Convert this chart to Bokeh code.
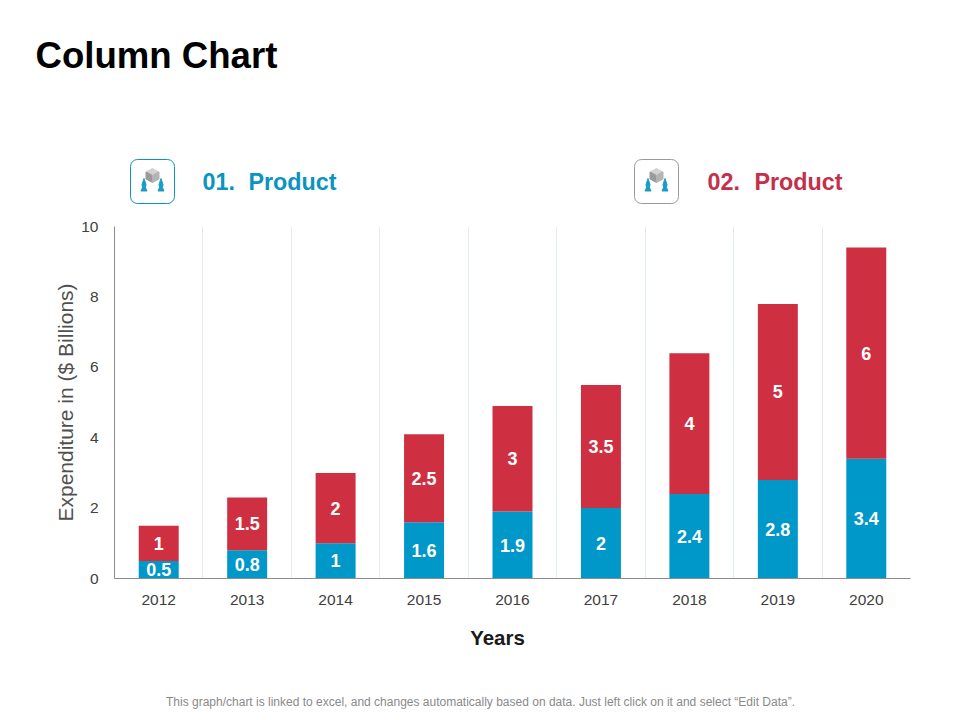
from bokeh.plotting import figure
from bokeh.core.properties import value
from bokeh.layouts import column
from bokeh.models import ColumnDataSource, FixedTicker, Range1d, BoxAnnotation
from bokeh.embed import file_html
from bokeh.resources import INLINE

years = [2012, 2013, 2014, 2015, 2016, 2017, 2018, 2019, 2020]
product_01 = [0.5, 0.8, 1, 1.6, 1.9, 2, 2.4, 2.8, 3.4]
product_02 = [1, 1.5, 2, 2.5, 3, 3.5, 4, 5, 6]
y_ticks = [0, 2, 4, 6, 8, 10]

BLUE = "#0097c9"
RED = "#cf3041"
HEAD_BLUE = "#0a94c2"
HEAD_RED = "#c4304a"
FONT = "Liberation Sans"
W = 952
LEFT, RIGHT, TOP, BOTTOM = 114, 910, 226, 578
HEAD_END, MAIN_END, PAGE_END = 214, 622, 712

tops = [a + b for a, b in zip(product_01, product_02)]
src = ColumnDataSource(dict(
    year=years, p1=product_01, p2=product_02, top=tops,
    mid1=[a / 2 for a in product_01],
    mid2=[a + b / 2 for a, b in zip(product_01, product_02)],
    t1=[f"{v:g}" for v in product_01],
    t2=[f"{v:g}" for v in product_02],
))

p = figure(width=W, height=MAIN_END - HEAD_END, output_backend="svg", toolbar_location=None,
           x_range=Range1d(years[0] - 0.5, years[-1] + 0.5), y_range=Range1d(0, 10), frame_align=False,
           min_border_left=LEFT, min_border_right=W - RIGHT,
           min_border_top=TOP - HEAD_END, min_border_bottom=MAIN_END - BOTTOM)
p.outline_line_color = None
p.ygrid.grid_line_color = None
p.xgrid.ticker = FixedTicker(ticks=[y + 0.5 for y in years[:-1]])
p.xgrid.grid_line_color = "#e3edf1"
p.xgrid.grid_line_width = 1

p.vbar(x="year", bottom=0, top="p1", width=0.452, fill_color=BLUE, line_color=None, source=src)
p.vbar(x="year", bottom="p1", top="top", width=0.452, fill_color=RED, line_color=None, source=src)
for m, t in (("mid1", "t1"), ("mid2", "t2")):
    p.text(x="year", y=m, text=t, source=src, text_align="center", text_baseline="middle",
           text_color="white", text_font=value(FONT), text_font_style="bold", text_font_size="18px")

for ax, ticks in ((p.xaxis, years), (p.yaxis, y_ticks)):
    ax.ticker = FixedTicker(ticks=ticks)
    ax.major_tick_line_color = None
    ax.minor_tick_line_color = None
    ax.axis_line_color = "#8c8c8c"
    ax.axis_line_width = 1
    ax.major_label_text_font = FONT
    ax.major_label_text_font_size = "15.5px"
    ax.major_label_text_color = "#404040"
p.xaxis.major_label_standoff = 10
p.yaxis.major_label_standoff = 10
p.xaxis.formatter.use_scientific = False
p.yaxis.axis_label = "Expenditure in ($ Billions)"
p.yaxis.axis_label_text_font = FONT
p.yaxis.axis_label_text_font_style = "normal"
p.yaxis.axis_label_text_font_size = "21px"
p.yaxis.axis_label_text_color = "#505050"
p.yaxis.axis_label_standoff = 1


def sheet(y0, y1):
    # a plain figure whose data units are page pixels, for the texts and icons around the chart
    f = figure(width=W, height=y1 - y0, output_backend="svg", toolbar_location=None, frame_align=False,
               x_range=Range1d(0, W), y_range=Range1d(y1, y0), x_axis_location=None, y_axis_location=None,
               min_border=0, min_border_left=0, min_border_right=0, min_border_top=0, min_border_bottom=0)
    f.outline_line_color = None
    f.grid.visible = False
    return f


def label(f, x, y, text, size, color, style="normal", align="left"):
    f.text(x=[x], y=[y], text=[text], text_font=value(FONT), text_font_size=size, text_color=color,
           text_font_style=style, text_align=align, text_baseline="middle")


head = sheet(0, HEAD_END)
label(head, 35, 55, "Column Chart", "36.6px", "#000000", "bold")
label(head, 202, 181, "01.", "23.3px", HEAD_BLUE, "bold")
label(head, 248, 181, "Product", "23.3px", HEAD_BLUE, "bold")
label(head, 707, 181, "02.", "23.3px", HEAD_RED, "bold")
label(head, 754, 181, "Product", "23.3px", HEAD_RED, "bold")

for ox, border in ((130, HEAD_BLUE), (634, "#9a9a9a")):
    head.add_layout(BoxAnnotation(left=ox, right=ox + 44, top=159, bottom=203, fill_color="white", fill_alpha=1,
                                  line_color=border, line_alpha=1, line_width=1, border_radius=7, level="underlay"))
    cx = ox + 22
    head.patch([cx, cx + 6.5, cx, cx - 6.5], [168, 171.5, 175, 171.5], color="#d2d2d2")
    head.patch([cx - 6.5, cx, cx, cx - 6.5], [171.5, 175, 182, 178.5], color="#9a9a9a")
    head.patch([cx + 6.5, cx, cx, cx + 6.5], [171.5, 175, 182, 178.5], color="#b4b4b4")
    for s in (-1, 1):
        hx = cx + s * 8.5
        head.patch([hx, hx + s * 2, hx + s * 1.5, hx + s * 3, hx - s * 3, hx - s * 1.5, hx - s * 2],
                   [178, 184, 187, 190.5, 190.5, 187, 184], color="#1b9cc4")

foot = sheet(MAIN_END, PAGE_END)
label(foot, 497, 637, "Years", "20.5px", "#1a1a1a", "bold", "center")
label(foot, 480, 701, "This graph/chart is linked to excel, and changes automatically based on data. Just left click on it and select \u201cEdit Data\u201d.",
      "12px", "#8a8a8a", "normal", "center")

open("out.html", "w").write(file_html(column(head, p, foot, spacing=0), INLINE))
